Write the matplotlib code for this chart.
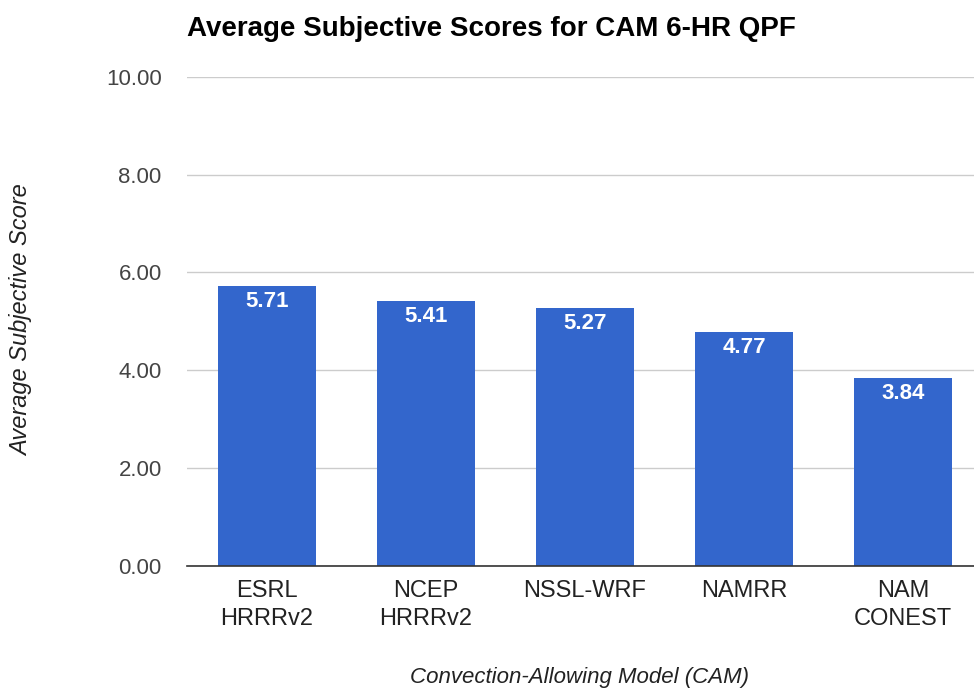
import matplotlib
matplotlib.use("Agg")
import matplotlib.pyplot as plt

categories = ["ESRL\nHRRRv2", "NCEP\nHRRRv2", "NSSL-WRF", "NAMRR", "NAM\nCONEST"]
values = [5.71, 5.41, 5.27, 4.77, 3.84]
yticks = [0, 2, 4, 6, 8, 10]

plt.rcParams['font.family'] = ['Liberation Sans', 'DejaVu Sans']

fig = plt.figure(figsize=(9.74, 6.91), dpi=100)
ax = fig.add_axes([0.1917, 0.1813, 1.0 - 0.1917, 0.889 - 0.1813])

x = list(range(len(categories)))
bars = ax.bar(x, values, width=0.616, color="#3366cc", zorder=3)
for xi, v in zip(x, values):
    ax.annotate(f"{v:.2f}", xy=(xi, v), xytext=(0, -11), textcoords="offset points",
                ha="center", va="center", color="white", fontweight="bold", fontsize=16, zorder=4)

ax.set_xlim(-0.503, 4.446)
ax.set_ylim(0, 10)
ax.set_yticks(yticks)
ax.set_yticklabels([f"{t:.2f}" for t in yticks], color="#444444", fontsize=16)
ax.set_xticks(x)
ax.set_xticklabels(categories, color="#222222", fontsize=17, linespacing=1.35, va="top")
ax.tick_params(axis="both", length=0)
ax.tick_params(axis="y", pad=18)
ax.tick_params(axis="x", pad=10)
ax.grid(axis="y", color="#cccccc", linewidth=1, zorder=0)
for s in ["top", "right", "left"]:
    ax.spines[s].set_visible(False)
ax.spines["bottom"].set_color("#333333")
ax.spines["bottom"].set_linewidth(1.2)
ax.spines["bottom"].set_zorder(5)

fig.text(0.1917, 0.958, "Average Subjective Scores for CAM 6-HR QPF", fontsize=20,
         fontweight="bold", ha="left", va="center", color="#000000")
fig.text(0.0226, 0.537, "Average Subjective Score", rotation=90, fontsize=17, style="italic",
         ha="center", va="center", color="#222222")
fig.text(0.595, 0.02, "Convection-Allowing Model (CAM)", fontsize=16, style="italic",
         ha="center", va="center", color="#222222")

fig.savefig("out.png", dpi=100)
